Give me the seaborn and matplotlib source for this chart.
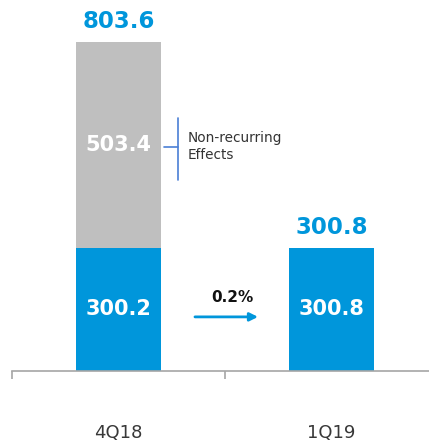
import matplotlib
matplotlib.use("Agg")
import matplotlib.pyplot as plt
import seaborn as sns
import pandas as pd

categories = ["4Q18", "1Q19"]
recurring = [300.2, 300.8]
non_recurring = [503.4, 0.0]
growth_label = "0.2%"
bracket_label = "Non-recurring\nEffects"

BLUE = "#0096DB"
GRAY = "#BFBFBF"
AXIS = "#A6A6A6"

totals = [r + n for r, n in zip(recurring, non_recurring)]
df = pd.DataFrame({"cat": categories, "rec": recurring, "tot": totals})

sns.set_style("white")
plt.rcParams["font.family"] = ["DejaVu Sans"]

fig = plt.figure(figsize=(4.29, 4.43), dpi=100)
ax = fig.add_axes([12 / 429, 72 / 443, 426 / 429, 371 / 443])

sns.barplot(data=df, x="cat", y="tot", color=GRAY, width=0.4, ax=ax,
            saturation=1, linewidth=0)
sns.barplot(data=df, x="cat", y="rec", color=BLUE, width=0.4, ax=ax,
            saturation=1, linewidth=0)

ax.set_xlim(-0.5, 1.5)
ax.set_ylim(0, 905)
for s in ["top", "right", "left"]:
    ax.spines[s].set_visible(False)
ax.spines["bottom"].set_color(AXIS)
ax.spines["bottom"].set_linewidth(1.2)
ax.set_yticks([])
ax.set_xlabel("")
ax.set_ylabel("")

ax.set_xticks([-0.5, 0.5, 1.5])
ax.set_xticklabels([])
ax.tick_params(axis="x", which="major", bottom=True, direction="out",
               length=6, color=AXIS, width=1.2)
ax.set_xticks([0, 1], minor=True)
ax.set_xticklabels(categories, minor=True)
ax.tick_params(axis="x", which="minor", bottom=True, length=0, pad=38,
               labelsize=13, labelcolor="#383838")

# value labels
for i, (r, n, t) in enumerate(zip(recurring, non_recurring, totals)):
    ax.text(i, r / 2, f"{r:.1f}", ha="center", va="center", color="white",
            fontsize=15, fontweight="bold")
    if n > 0:
        ax.text(i, r + n / 2, f"{n:.1f}", ha="center", va="center",
                color="white", fontsize=15, fontweight="bold")
    ax.text(i, t + 20, f"{t:.1f}", ha="center", va="bottom", color=BLUE,
            fontsize=16.5, fontweight="bold")

# bracket
BR = "#4A7FD6"
ax.plot([0.279, 0.279], [466, 617], color=BR, lw=1.2)
ax.plot([0.214, 0.279], [547, 547], color=BR, lw=1.2)
ax.text(0.326, 547, bracket_label, ha="left", va="center", fontsize=9.8,
        color="#333333", linespacing=1.3)

# arrow
ax.annotate("", xy=(0.655, 132), xytext=(0.359, 132),
            arrowprops=dict(arrowstyle="-|>", color=BLUE, lw=2,
                            mutation_scale=12, shrinkA=0, shrinkB=0))
ax.text(0.533, 160, growth_label, ha="center", va="bottom", fontsize=11,
        fontweight="bold", color="#111111")

fig.savefig("out.png", dpi=100)
